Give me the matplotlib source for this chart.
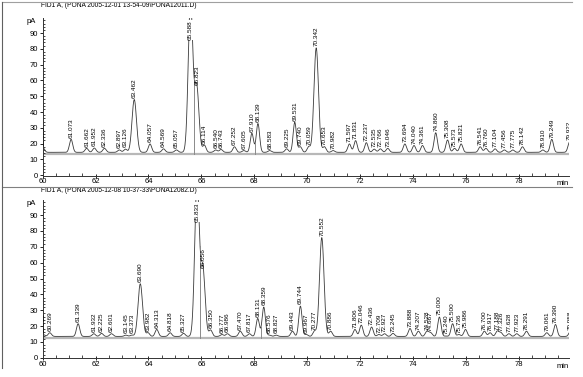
"""Two stacked FID chromatogram panels (PONA runs), peaks labelled with retention times"""

import numpy as np
import matplotlib
matplotlib.use("Agg")
import matplotlib.pyplot as plt
from matplotlib.lines import Line2D
from matplotlib.ticker import MultipleLocator

plt.rcParams['font.family'] = ['Liberation Sans', 'DejaVu Sans']

# run 1: retention time (min) and apex height (pA)
TITLE_1 = "FID1 A, (PONA 2005-12-01 13-54-09\\PONA12011.D)"
RT_1 = [60.006, 61.073, 61.662, 61.952, 62.336, 62.897, 63.126, 63.462, 64.057, 64.569,
        65.057, 65.588, 65.823, 66.114, 66.540, 66.743, 67.252, 67.605, 67.910, 68.139,
        68.583, 69.225, 69.531, 69.740, 70.059, 70.342, 70.653, 70.982, 71.597, 71.831,
        72.237, 72.535, 72.766, 73.046, 73.694, 74.040, 74.361, 74.860, 75.308, 75.573,
        75.821, 76.541, 76.760, 77.104, 77.456, 77.775, 78.142, 78.910, 79.249, 79.922]
APEX_1 = [17.5, 22.7, 17.0, 17.2, 17.0, 16.0, 16.5, 47.9, 19.8, 16.7,
          16.0, 110.0, 56.0, 19.0, 16.0, 16.3, 18.0, 15.6, 26.5, 32.7,
          15.6, 16.7, 33.5, 18.0, 18.0, 80.6, 18.0, 15.6, 19.8, 21.9,
          20.6, 16.5, 16.7, 17.0, 19.8, 18.8, 18.8, 26.9, 22.3, 17.0,
          19.8, 18.0, 17.0, 16.7, 16.0, 16.0, 18.0, 16.0, 22.7, 21.0]
BASE_1 = 14.5
GRAY_1 = 13.5
DROPS_1 = [65.71, 68.03]

# run 2
TITLE_2 = "FID1 A, (PONA 2005-12-08 10-37-33\\PONA12082.D)"
RT_2 = [60.018, 60.269, 61.339, 61.932, 62.225, 62.601, 63.145, 63.373, 63.690, 63.982,
        64.313, 64.818, 65.327, 65.833, 66.056, 66.350, 66.777, 66.986, 67.470, 67.817,
        68.131, 68.359, 68.576, 68.827, 69.443, 69.744, 69.967, 70.277, 70.552, 70.886,
        71.806, 72.046, 72.436, 72.709, 72.927, 73.245, 73.888, 74.207, 74.528, 74.667,
        75.000, 75.240, 75.500, 75.736, 75.986, 76.700, 76.917, 77.188, 77.326, 77.628,
        77.923, 78.291, 79.061, 79.390, 79.958]
APEX_2 = [14.7, 15.8, 21.5, 15.2, 15.4, 15.2, 14.3, 14.3, 46.7, 15.8,
          17.9, 15.8, 15.4, 110.0, 55.8, 17.5, 14.7, 15.2, 16.8, 15.2,
          24.8, 32.0, 14.3, 14.3, 16.8, 32.6, 14.7, 16.8, 75.8, 16.8,
          17.9, 20.6, 19.4, 14.7, 15.2, 15.4, 18.5, 16.8, 16.8, 15.8,
          25.7, 13.7, 21.5, 14.7, 17.9, 16.8, 15.8, 16.8, 15.8, 15.2,
          15.2, 16.8, 15.8, 21.0, 16.8]
BASE_2 = 13.5
GRAY_2 = 12.6
DROPS_2 = [65.95, 68.25]

X_MIN, X_MAX = 60.0, 79.9
Y_MIN, Y_MAX = -0.3, 99.5
SIGMA = 0.062
SIGMA_BIG = 0.085

W, H = 583, 377


def trace(t, rts, apexes, base):
    y = np.full_like(t, base)
    for rt, ap in zip(rts, apexes):
        s = SIGMA_BIG if ap > 40 else SIGMA
        y += (ap - base) * np.exp(-0.5 * ((t - rt) / s) ** 2)
    return y


def draw_panel(ax, title, title_y, rts, apexes, base, gray, drops):
    t = np.linspace(X_MIN, X_MAX, 4000)
    y = trace(t, rts, apexes, base)

    ax.axhline(gray, color="#b8b8b8", lw=1.6, zorder=1)
    ax.plot(t, y, color="#3a3a3a", lw=0.6, zorder=2)

    for d in drops:
        yd = trace(np.array([d]), rts, apexes, base)[0]
        ax.plot([d, d], [gray, yd], color="#8a8a8a", lw=0.7, zorder=2)

    for rt, ap in zip(rts, apexes):
        if ap > Y_MAX:
            ax.text(rt, 85.5, f"{rt:.3f}", rotation=90, ha="center", va="bottom",
                    fontsize=4.6, clip_on=True, zorder=4,
                    bbox=dict(facecolor="white", edgecolor="none", pad=0.2))
        else:
            ax.annotate(f"{rt:.3f}", (rt, ap), xytext=(0, 1.2), textcoords="offset points",
                        rotation=90, ha="center", va="bottom", fontsize=4.6,
                        annotation_clip=False, clip_on=True, zorder=3)

    ax.set_xlim(X_MIN, X_MAX)
    ax.set_ylim(Y_MIN, Y_MAX)
    for side in ("top", "right"):
        ax.spines[side].set_visible(False)
    for side in ("left", "bottom"):
        ax.spines[side].set_linewidth(0.7)
        ax.spines[side].set_color("#333333")

    ax.set_xticks([60, 62, 64, 66, 68, 70, 72, 74, 76, 78])
    ax.xaxis.set_minor_locator(MultipleLocator(0.5))
    ax.set_yticks(range(0, 100, 10))
    ax.yaxis.set_minor_locator(MultipleLocator(2))
    ax.tick_params(axis="x", which="major", direction="inout", length=3, width=0.6,
                   labelsize=5.5, pad=0.5)
    ax.tick_params(axis="x", which="minor", direction="in", length=2, width=0.5)
    ax.tick_params(axis="y", which="major", direction="out", length=2.5, width=0.6,
                   labelsize=5.5, pad=1)
    ax.tick_params(axis="y", which="minor", direction="in", length=1.5, width=0.5)

    ax.text(-0.012, 0.975, "pA", transform=ax.transAxes, ha="right", va="center",
            fontsize=5.5)
    ax.text(1.0, -0.05, "min", transform=ax.transAxes, ha="right", va="center",
            fontsize=5.5)
    ax.text(-0.003, title_y, title, transform=ax.transAxes, ha="left", va="center",
            fontsize=4.8)


fig = plt.figure(figsize=(W / 100, H / 100), dpi=100)
left = 42.7 / W
width = (569 - 42.7) / W
ax1 = fig.add_axes([left, (H - 175.7) / H, width, 157.7 / H])
ax2 = fig.add_axes([left, (H - 358.3) / H, width, 158.3 / H])

draw_panel(ax1, TITLE_1, 1.078, RT_1, APEX_1, BASE_1, GRAY_1, DROPS_1)
draw_panel(ax2, TITLE_2, 1.057, RT_2, APEX_2, BASE_2, GRAY_2, DROPS_2)

# outer frame lines of the report
fig.add_artist(Line2D([2 / W, 572 / W], [1 - 2 / H, 1 - 2 / H], color="#a0a0a0", lw=0.8))
fig.add_artist(Line2D([2 / W, 572 / W], [1 - 186.5 / H, 1 - 186.5 / H], color="#808080", lw=0.8))
fig.add_artist(Line2D([2 / W, 2 / W], [1 - 2 / H, 1 - 368 / H], color="#606060", lw=0.8))

fig.savefig("out.png", dpi=100)
plt.close(fig)
